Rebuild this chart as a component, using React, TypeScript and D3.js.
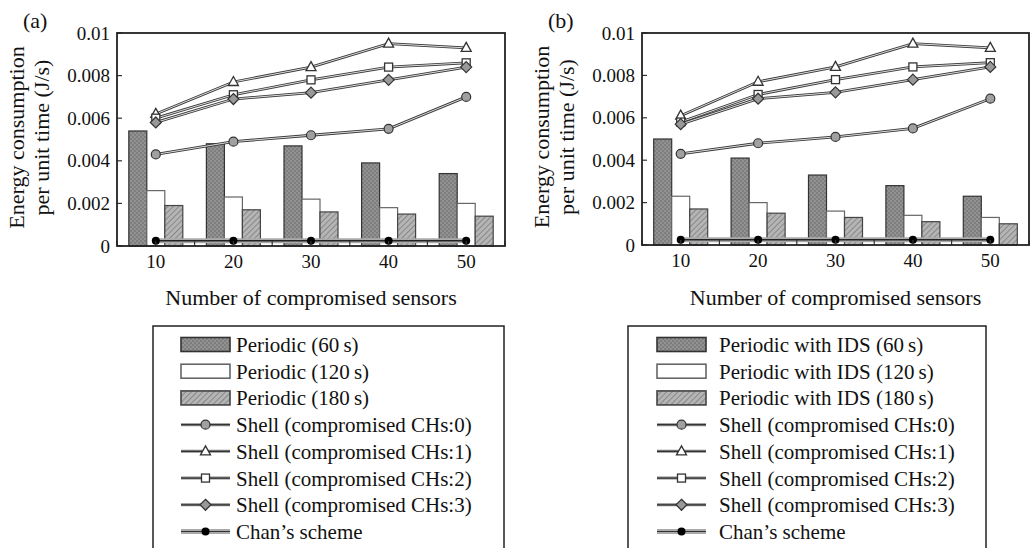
import React from 'react';
import { scaleBand, scaleLinear, line } from 'd3';

const sensors = [10, 20, 30, 40, 50];
const xTickLabels = ['10', '20', '30', '40', '50'];
const yTicks = [0, 0.002, 0.004, 0.006, 0.008, 0.01];
const yTickLabels = ['0', '0.002', '0.004', '0.006', '0.008', '0.01'];
const minorX = [5, 10, 15, 20, 25, 30, 35, 40, 45, 50, 55];

// panel (a)
const periodic60A = [0.0054, 0.0048, 0.0047, 0.0039, 0.0034];
const periodic120A = [0.0026, 0.0023, 0.0022, 0.0018, 0.002];
const periodic180A = [0.0019, 0.0017, 0.0016, 0.0015, 0.0014];
const shell0A = [0.0043, 0.0049, 0.0052, 0.0055, 0.007];
const shell1A = [0.0062, 0.0077, 0.0084, 0.0095, 0.0093];
const shell2A = [0.006, 0.0071, 0.0078, 0.0084, 0.0086];
const shell3A = [0.0058, 0.0069, 0.0072, 0.0078, 0.0084];
const chanA = [0.00025, 0.00025, 0.00025, 0.00025, 0.00025];

// panel (b)
const periodic60B = [0.005, 0.0041, 0.0033, 0.0028, 0.0023];
const periodic120B = [0.0023, 0.002, 0.0016, 0.0014, 0.0013];
const periodic180B = [0.0017, 0.0015, 0.0013, 0.0011, 0.001];
const shell0B = [0.0043, 0.0048, 0.0051, 0.0055, 0.0069];
const shell1B = [0.0061, 0.0077, 0.0084, 0.0095, 0.0093];
const shell2B = [0.0058, 0.0071, 0.0078, 0.0084, 0.0086];
const shell3B = [0.0057, 0.0069, 0.0072, 0.0078, 0.0084];
const chanB = [0.00025, 0.00025, 0.00025, 0.00025, 0.00025];

const legendA = [
  'Periodic (60\u2009s)',
  'Periodic (120\u2009s)',
  'Periodic (180\u2009s)',
  'Shell (compromised CHs:0)',
  'Shell (compromised CHs:1)',
  'Shell (compromised CHs:2)',
  'Shell (compromised CHs:3)',
  'Chan\u2019s scheme',
];
const legendB = [
  'Periodic with IDS (60\u2009s)',
  'Periodic with IDS (120\u2009s)',
  'Periodic with IDS (180\u2009s)',
  'Shell (compromised CHs:0)',
  'Shell (compromised CHs:1)',
  'Shell (compromised CHs:2)',
  'Shell (compromised CHs:3)',
  'Chan\u2019s scheme',
];

const FONT = '"Liberation Serif", "Times New Roman", serif';
const barFills = ['url(#checkFill)', '#ffffff', 'url(#diagFill)'];
const barStrokes = ['#333', '#666', '#444'];
const markerTypes = ['circle', 'triangle', 'square', 'diamond'];

function Marker({ type, x, y }: { type: string; x: number; y: number }) {
  if (type === 'triangle')
    return (
      <path
        d={`M${x},${y - 5.5}L${x + 5},${y + 3.5}L${x - 5},${y + 3.5}Z`}
        fill="#fff"
        stroke="#333"
        strokeWidth={1.3}
      />
    );
  if (type === 'square')
    return <rect x={x - 4} y={y - 4} width={8} height={8} fill="#fff" stroke="#333" strokeWidth={1.3} />;
  if (type === 'diamond')
    return (
      <path
        d={`M${x},${y - 5.5}L${x + 5.5},${y}L${x},${y + 5.5}L${x - 5.5},${y}Z`}
        fill="#999"
        stroke="#333"
        strokeWidth={1.2}
      />
    );
  if (type === 'dot') return <circle cx={x} cy={y} r={4} fill="#000" />;
  return <circle cx={x} cy={y} r={4.5} fill="#a0a0a0" stroke="#333" strokeWidth={1.2} />;
}

type PanelProps = {
  label: string;
  left: number;
  right: number;
  top: number;
  bottom: number;
  bars: number[][];
  shells: number[][];
  chan: number[];
};

function Panel({ label, left, right, top, bottom, bars, shells, chan }: PanelProps) {
  const x = scaleLinear().domain([5, 55]).range([left, right]);
  const y = scaleLinear().domain([0, 0.01]).range([bottom, top]);
  const inner = scaleBand<number>().domain([0, 1, 2]).range([-27, 27]);
  const path = line<number>()
    .x((_, i) => x(sensors[i]))
    .y(d => y(d));
  const midY = (top + bottom) / 2 - 2;

  return (
    <g fontFamily={FONT} fill="#111">
      <text x={left - 94} y={28} fontSize={22}>
        {label}
      </text>
      <text transform={`translate(${left - 93},${midY}) rotate(-90)`} textAnchor="middle" fontSize={22}>
        Energy consumption
      </text>
      <text transform={`translate(${left - 68},${midY}) rotate(-90)`} textAnchor="middle" fontSize={22}>
        per unit time (J/s)
      </text>

      {bars.map((series, k) =>
        series.map((v, i) => (
          <rect
            key={`b${k}-${i}`}
            x={x(sensors[i]) + (inner(k) ?? 0)}
            y={y(v)}
            width={inner.bandwidth()}
            height={bottom - y(v)}
            fill={barFills[k]}
            stroke={barStrokes[k]}
            strokeWidth={1.2}
          />
        )),
      )}

      {/* Chan's scheme */}
      <path d={path(chan) ?? ''} fill="none" stroke="#aaa" strokeWidth={5} />
      <path d={path(chan) ?? ''} fill="none" stroke="#222" strokeWidth={1.4} />
      {chan.map((v, i) => (
        <Marker key={`c${i}`} type="dot" x={x(sensors[i])} y={y(v)} />
      ))}

      {shells.map((series, k) => (
        <g key={`s${k}`}>
          <path d={path(series) ?? ''} fill="none" stroke="#3a3a3a" strokeWidth={2.8} />
          <path d={path(series) ?? ''} fill="none" stroke="#eee" strokeWidth={0.9} />
          {series.map((v, i) => (
            <Marker key={i} type={markerTypes[k]} x={x(sensors[i])} y={y(v)} />
          ))}
        </g>
      ))}

      {/* inward ticks */}
      {yTicks.map(t => (
        <line key={`yt${t}`} x1={left} x2={left + 5} y1={y(t)} y2={y(t)} stroke="#333" strokeWidth={1.2} />
      ))}
      {minorX.map(t => (
        <line key={`xt${t}`} x1={x(t)} x2={x(t)} y1={bottom} y2={bottom - 5} stroke="#333" strokeWidth={1.2} />
      ))}

      <rect x={left} y={top} width={right - left} height={bottom - top} fill="none" stroke="#222" strokeWidth={1.8} />

      {yTicks.map((t, i) => (
        <text key={`yl${t}`} x={left - 7} y={y(t)} dy="0.35em" textAnchor="end" fontSize={19}>
          {yTickLabels[i]}
        </text>
      ))}
      {sensors.map((s, i) => (
        <text key={`xl${s}`} x={x(s)} y={bottom + 22} textAnchor="middle" fontSize={19}>
          {xTickLabels[i]}
        </text>
      ))}
      <text x={(left + right) / 2} y={305} textAnchor="middle" fontSize={22}>
        Number of compromised sensors
      </text>
    </g>
  );
}

function Legend({ boxLeft, boxRight, swatchX, textX, labels }: {
  boxLeft: number;
  boxRight: number;
  swatchX: number;
  textX: number;
  labels: string[];
}) {
  const row = scaleLinear().domain([0, 7]).range([344.5, 531.5]);
  const sw = 49;
  return (
    <g fontFamily={FONT} fill="#111">
      <rect x={boxLeft} y={326} width={boxRight - boxLeft} height={260} fill="#fff" stroke="#222" strokeWidth={1.5} />
      {labels.map((lab, i) => {
        const cy = row(i);
        let swatch;
        if (i < 3) {
          swatch = (
            <rect x={swatchX} y={cy - 7} width={sw} height={14} fill={barFills[i]} stroke={barStrokes[i]} strokeWidth={1.6} />
          );
        } else {
          const isChan = i === 7;
          swatch = (
            <g>
              <line x1={swatchX} x2={swatchX + sw} y1={cy} y2={cy} stroke={isChan ? '#aaa' : '#888'} strokeWidth={isChan ? 5 : 3} />
              <line x1={swatchX} x2={swatchX + sw} y1={cy} y2={cy} stroke="#333" strokeWidth={1.2} />
              <Marker type={isChan ? 'dot' : markerTypes[i - 3]} x={swatchX + sw / 2} y={cy} />
            </g>
          );
        }
        return (
          <g key={lab}>
            {swatch}
            <text x={textX} y={cy} dy="0.36em" fontSize={21}>
              {lab}
            </text>
          </g>
        );
      })}
    </g>
  );
}

export default function App() {
  return (
    <svg
      width={1030}
      height={548}
      style={{ position: 'absolute', left: 0, top: 0, background: '#fff' }}
    >
      <defs>
        <pattern id="checkFill" width={4} height={4} patternUnits="userSpaceOnUse">
          <rect width={4} height={4} fill="#929292" />
          <rect width={2} height={2} fill="#7e7e7e" />
          <rect x={2} y={2} width={2} height={2} fill="#7e7e7e" />
        </pattern>
        <pattern id="diagFill" width={4} height={4} patternUnits="userSpaceOnUse" patternTransform="rotate(45)">
          <rect width={4} height={4} fill="#b5b5b5" />
          <line x1={0} y1={0} x2={0} y2={4} stroke="#7d7d7d" strokeWidth={1.6} />
        </pattern>
      </defs>
      <rect width={1030} height={548} fill="#fff" />
      <Panel
        label="(a)"
        left={117}
        right={505}
        top={33}
        bottom={246}
        bars={[periodic60A, periodic120A, periodic180A]}
        shells={[shell0A, shell1A, shell2A, shell3A]}
        chan={chanA}
      />
      <Panel
        label="(b)"
        left={642}
        right={1029}
        top={33}
        bottom={245}
        bars={[periodic60B, periodic120B, periodic180B]}
        shells={[shell0B, shell1B, shell2B, shell3B]}
        chan={chanB}
      />
      <Legend boxLeft={153} boxRight={504} swatchX={181} textX={236} labels={legendA} />
      <Legend boxLeft={628} boxRight={986} swatchX={657} textX={719} labels={legendB} />
    </svg>
  );
}
